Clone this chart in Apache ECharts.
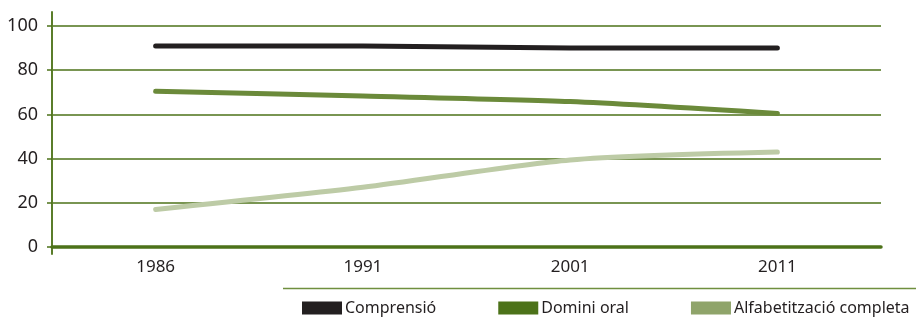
<!DOCTYPE html>
<html>
<head>
<meta charset="utf-8">
<script src="https://cdn.jsdelivr.net/npm/echarts@6/dist/echarts.min.js"></script>
<style>
  html, body { margin: 0; padding: 0; background: #ffffff; }
  #chart { width: 919px; height: 322px; }
</style>
</head>
<body>
<div id="chart"></div>
<script>
// Census years on the category axis
const years = ['1986', '1991', '2001', '2011'];

// Percentage of population per language skill
const comprensio = [91, 91, 90, 90];
const dominiOral = [70.5, 68.3, 65.8, 60.4];
const alfabetitzacio = [17, 27, 39.4, 43];

// Y axis ticks
const yTicks = [0, 20, 40, 60, 80, 100];

const seriesNames = ['Comprensió', 'Domini oral', 'Alfabetització completa'];

const axisGreen = '#4c7219';
const textColor = '#231f20';
const fontFamily = '"Noto Sans", "Open Sans", sans-serif';

const chart = echarts.init(document.getElementById('chart'), null, { renderer: 'canvas' });

const lineSeries = (name, data, color) => ({
  name: name,
  type: 'line',
  xAxisIndex: 0,
  yAxisIndex: 0,
  data: data,
  smooth: 0.25,
  symbol: 'none',
  lineStyle: { color: color, width: 5, cap: 'round', join: 'round' },
  itemStyle: { color: color },
  z: 3
});

chart.setOption({
  animation: false,
  backgroundColor: '#ffffff',
  grid: [
    { left: 52, right: 38, top: 26, bottom: 75 },
    // taller frame used only for the vertical axis rule
    { left: 52, right: 38, top: 12, bottom: 68 }
  ],
  xAxis: [
    {
      type: 'category',
      gridIndex: 0,
      data: years,
      boundaryGap: true,
      axisLine: { show: true, lineStyle: { color: axisGreen, width: 3.5 } },
      axisTick: { show: false },
      axisLabel: { color: textColor, fontSize: 17, fontFamily: fontFamily, margin: 12 },
      splitLine: { show: false },
      z: 4
    },
    {
      type: 'category',
      gridIndex: 1,
      data: years,
      show: false
    }
  ],
  yAxis: [
    {
      type: 'value',
      gridIndex: 0,
      min: yTicks[0],
      max: yTicks[yTicks.length - 1],
      interval: yTicks[1] - yTicks[0],
      axisLine: { show: false },
      axisTick: { show: true, length: 5, lineStyle: { color: axisGreen, width: 1.5 } },
      axisLabel: { color: textColor, fontSize: 18, fontFamily: fontFamily, margin: 14 },
      splitLine: { show: true, lineStyle: { color: axisGreen, width: 1.5 } }
    },
    {
      type: 'value',
      gridIndex: 1,
      min: 0,
      max: 1,
      axisLine: { show: true, lineStyle: { color: '#5a7d2a', width: 2 } },
      axisTick: { show: false },
      axisLabel: { show: false },
      splitLine: { show: false }
    }
  ],
  legend: {
    left: 302,
    top: 300,
    width: 617,
    padding: 0,
    icon: 'rect',
    itemWidth: 40,
    itemHeight: 13,
    itemGap: 62,
    textStyle: { color: textColor, fontSize: 16, fontFamily: fontFamily, padding: [0, 0, 0, -2] },
    data: [
      { name: seriesNames[0], itemStyle: { color: '#231f20' } },
      { name: seriesNames[1], itemStyle: { color: '#4c7219' } },
      { name: seriesNames[2], itemStyle: { color: '#8fa46a' } }
    ]
  },
  graphic: [
    {
      type: 'line',
      shape: { x1: 283, y1: 288.5, x2: 916, y2: 288.5 },
      style: { stroke: '#6f8f3f', lineWidth: 1.5 }
    }
  ],
  series: [
    lineSeries(seriesNames[0], comprensio, '#231f20'),
    lineSeries(seriesNames[1], dominiOral, '#6b8a3a'),
    lineSeries(seriesNames[2], alfabetitzacio, '#bdcba6')
  ]
});
</script>
</body>
</html>
